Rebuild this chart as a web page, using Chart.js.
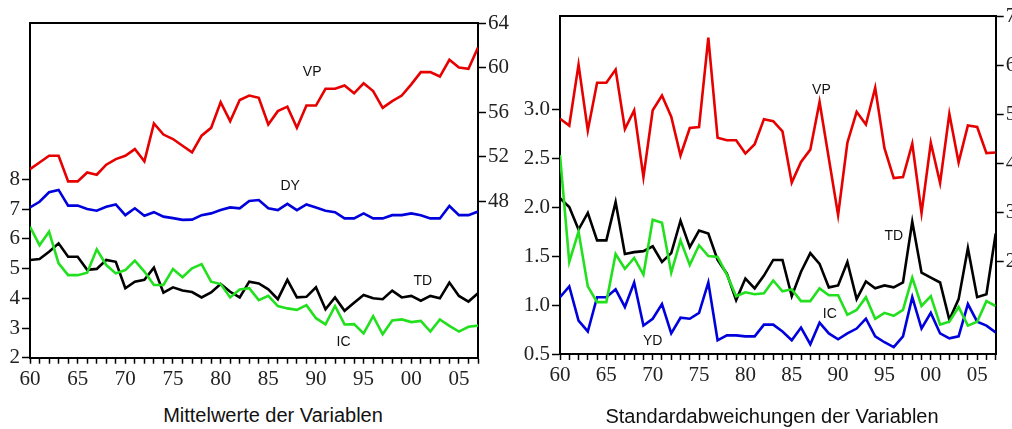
<!DOCTYPE html>
<html><head><meta charset="utf-8">
<script src="https://cdn.jsdelivr.net/npm/chart.js@4.4.0/dist/chart.umd.min.js"></script>
<style>
html,body{margin:0;padding:0;background:#fff;overflow:hidden;width:1012px;height:429px;}
#wrap{position:relative;width:1012px;height:429px;overflow:hidden;background:#fff;}
canvas{position:absolute;top:0;}
#c1{left:0;width:520px;height:400px;}
#c2{left:515px;width:530px;height:400px;}
.ttl{position:absolute;width:400px;text-align:center;font-family:'Liberation Sans',Arial,sans-serif;font-size:20px;line-height:20px;color:#111;white-space:nowrap;}
</style></head><body>
<div id="wrap">
<canvas id="c1" width="520" height="400"></canvas>
<canvas id="c2" width="530" height="400"></canvas>
<div class="ttl" style="left:73px;top:405px">Mittelwerte der Variablen</div>
<div class="ttl" style="left:572px;top:406px">Standardabweichungen der Variablen</div>
</div>
<script>
// ---------- categories ----------
const years = [1960,1961,1962,1963,1964,1965,1966,1967,1968,1969,
               1970,1971,1972,1973,1974,1975,1976,1977,1978,1979,
               1980,1981,1982,1983,1984,1985,1986,1987,1988,1989,
               1990,1991,1992,1993,1994,1995,1996,1997,1998,1999,
               2000,2001,2002,2003,2004,2005,2006,2007];

// ---------- left panel: Mittelwerte ----------
const meanVP = [50.9,51.5,52.1,52.1,49.8,49.8,50.6,50.4,51.3,51.8,
                52.1,52.7,51.6,55.0,54.0,53.6,53.0,52.4,53.9,54.6,
                56.9,55.2,57.1,57.5,57.3,54.9,56.1,56.5,54.6,56.6,
                56.6,58.1,58.1,58.4,57.7,58.6,57.9,56.4,57.0,57.5,
                58.5,59.6,59.6,59.2,60.7,60.0,59.9,61.8];
const meanDY = [7.06,7.25,7.57,7.65,7.12,7.12,7.01,6.95,7.08,7.16,
                6.80,7.03,6.78,6.90,6.75,6.70,6.64,6.65,6.80,6.86,
                6.97,7.06,7.03,7.28,7.31,7.03,6.97,7.18,6.97,7.16,
                7.06,6.95,6.90,6.69,6.69,6.86,6.69,6.69,6.80,6.80,
                6.86,6.80,6.69,6.69,7.11,6.80,6.80,6.92];
const meanTD = [5.29,5.32,5.57,5.85,5.40,5.40,4.96,4.99,5.29,5.23,
                4.34,4.56,4.62,5.03,4.19,4.37,4.26,4.21,4.03,4.20,
                4.48,4.22,4.03,4.56,4.50,4.30,3.97,4.62,4.03,4.05,
                4.37,3.63,4.03,3.58,3.85,4.11,4.00,3.97,4.26,4.03,
                4.08,3.92,4.08,4.00,4.53,4.08,3.89,4.17];
const meanIC = [6.41,5.79,6.24,5.18,4.78,4.78,4.86,5.65,5.12,4.84,
                4.95,5.27,4.90,4.45,4.45,4.99,4.71,5.01,5.15,4.56,
                4.48,4.03,4.30,4.34,3.94,4.08,3.74,3.66,3.61,3.77,
                3.33,3.12,3.74,3.12,3.13,2.82,3.40,2.79,3.25,3.29,
                3.20,3.24,2.88,3.29,3.07,2.88,3.04,3.08];

// ---------- right panel: Standardabweichungen ----------
const sdVP = [4.91,4.77,6.01,4.67,5.64,5.64,5.91,4.70,5.08,3.72,
              5.08,5.38,4.95,4.16,4.72,4.74,6.56,4.52,4.47,4.47,
              4.20,4.39,4.90,4.86,4.65,3.61,4.03,4.28,5.25,4.10,
              2.95,4.42,5.05,4.79,5.54,4.31,3.70,3.72,4.40,2.99,
              4.42,3.60,5.01,4.02,4.77,4.74,4.21,4.22];
const sdTD = [2.09,2.00,1.77,1.94,1.66,1.66,2.05,1.52,1.54,1.55,
              1.60,1.44,1.53,1.86,1.59,1.76,1.73,1.46,1.32,1.05,
              1.27,1.17,1.30,1.46,1.46,1.09,1.34,1.53,1.42,1.18,
              1.20,1.44,1.06,1.24,1.17,1.20,1.18,1.23,1.85,1.33,
              1.28,1.23,0.85,1.06,1.58,1.08,1.11,1.73];
const sdIC = [2.53,1.44,1.75,1.19,1.03,1.03,1.52,1.37,1.48,1.31,
              1.87,1.84,1.33,1.66,1.41,1.61,1.50,1.49,1.31,1.09,
              1.13,1.11,1.12,1.25,1.14,1.16,1.04,1.04,1.17,1.10,
              1.10,0.90,0.95,1.08,0.86,0.92,0.89,0.95,1.28,0.99,
              1.09,0.80,0.83,0.98,0.79,0.83,1.04,0.99];
const sdYD = [1.08,1.19,0.84,0.73,1.08,1.08,1.16,0.98,1.23,0.79,
              0.86,1.01,0.71,0.87,0.86,0.92,1.23,0.64,0.69,0.69,
              0.68,0.68,0.80,0.80,0.73,0.64,0.77,0.60,0.82,0.71,
              0.65,0.71,0.76,0.86,0.68,0.62,0.57,0.68,1.08,0.76,
              0.92,0.71,0.66,0.68,1.01,0.83,0.79,0.72];

// ---------- tick labels ----------
const leftTicksL  = [2,3,4,5,6,7,8];
const rightTicksL = [48,52,56,60,64];
const leftTicksR  = [0.5,1.0,1.5,2.0,2.5,3.0];
const rightTicksR = [2,3,4,5,6,7];

// ---------- series labels (text placed at data coordinates of left axis) ----------
const labelsL = [["VP",1989.6,11.63],["DY",1987.3,7.76],["TD",2001.2,4.58],["IC",1992.9,2.52]];
const labelsR = [["VP",1988.2,3.19],["TD",1996.0,1.70],["IC",1989.1,0.91],["YD",1970.0,0.63]];

const RED='#e60000', BLUE='#0000dd', GREEN='#22e01e', BLACK='#000000';

const seriesLabelPlugin = {
  id:'seriesLabels',
  afterDatasetsDraw(chart, args, opts){
    const ctx = chart.ctx, xs = chart.scales.x, ys = chart.scales.y;
    ctx.save();
    ctx.font = '14px "Liberation Sans", Arial, sans-serif';
    ctx.fillStyle = '#111';
    ctx.textAlign = 'center'; ctx.textBaseline = 'middle';
    (opts.items||[]).forEach(it => ctx.fillText(it[0], xs.getPixelForValue(it[1]), ys.getPixelForValue(it[2])));
    ctx.restore();
  }
};
const framePlugin = {
  id:'frameTop',
  afterDraw(chart){
    const a = chart.chartArea, ctx = chart.ctx;
    ctx.save(); ctx.strokeStyle='#000'; ctx.lineWidth=2;
    ctx.beginPath(); ctx.moveTo(a.left-1, a.top); ctx.lineTo(a.right+1, a.top); ctx.stroke();
    ctx.restore();
  }
};

function pts(arr){ return years.map((yr,i)=>({x:yr,y:arr[i]})); }
const tickFont = {family:'"Liberation Serif", "Times New Roman", serif', size:21};

function yAxis(pos, ticksArr, min, max, width, fmt){
  return {
    type:'linear', position:pos, min:min, max:max,
    afterBuildTicks: a => { a.ticks = ticksArr.map(v=>({value:v})); },
    afterFit: s => { s.width = width; },
    grid:{drawOnChartArea:false, drawTicks:true, tickLength:8, tickColor:'#000', tickWidth:1.5},
    border:{display:true, color:'#000', width:2},
    ticks:{font:tickFont, color:'#222', padding:2, autoSkip:false, callback: fmt}
  };
}
function xAxis(height){
  return {
    type:'linear', min:1960, max:2007,
    afterBuildTicks: a => { a.ticks = years.map(v=>({value:v})); },
    afterFit: s => { s.height = height; },
    grid:{drawOnChartArea:false, drawTicks:true, tickLength:6, tickColor:'#000', tickWidth:1.5},
    border:{display:true, color:'#000', width:2},
    ticks:{font:tickFont, color:'#222', padding:3, autoSkip:false, maxRotation:0, minRotation:0,
      callback: v => (v % 5 === 0) ? String(v % 100).padStart(2,'0') : ''}
  };
}
function ds(data, color, axis){
  return {data:pts(data), borderColor:color, borderWidth:2.6, pointRadius:0, tension:0, fill:false, yAxisID:axis};
}
const common = {responsive:false, animation:false, parsing:true,
  plugins:{legend:{display:false}, tooltip:{enabled:false}}};

new Chart(document.getElementById('c1'), {
  type:'line',
  data:{datasets:[ds(meanIC,GREEN,'y'), ds(meanTD,BLACK,'y'), ds(meanDY,BLUE,'y'), ds(meanVP,RED,'y1')]},
  options:Object.assign({}, common, {
    layout:{padding:{top:23,left:0,right:0,bottom:0}},
    scales:{
      x:xAxis(42.3),
      y:yAxis('left', leftTicksL, 2, 13.27, 30, v=>String(v)),
      y1:yAxis('right', rightTicksL, 34, 64, 42, v=>String(v))
    },
    plugins:{legend:{display:false}, tooltip:{enabled:false}, seriesLabels:{items:labelsL}}
  }),
  plugins:[seriesLabelPlugin, framePlugin]
});

new Chart(document.getElementById('c2'), {
  type:'line',
  data:{datasets:[ds(sdIC,GREEN,'y'), ds(sdTD,BLACK,'y'), ds(sdYD,BLUE,'y'), ds(sdVP,RED,'y1')]},
  options:Object.assign({}, common, {
    layout:{padding:{top:16,left:0,right:0,bottom:0}},
    scales:{
      x:xAxis(46),
      y:yAxis('left', leftTicksR, 0.5, 3.95, 45, v=>v.toFixed(1)),
      y1:yAxis('right', rightTicksR, 0.12, 7, 49.3, v=>String(v))
    },
    plugins:{legend:{display:false}, tooltip:{enabled:false}, seriesLabels:{items:labelsR}}
  }),
  plugins:[seriesLabelPlugin, framePlugin]
});
</script>
</body></html>
